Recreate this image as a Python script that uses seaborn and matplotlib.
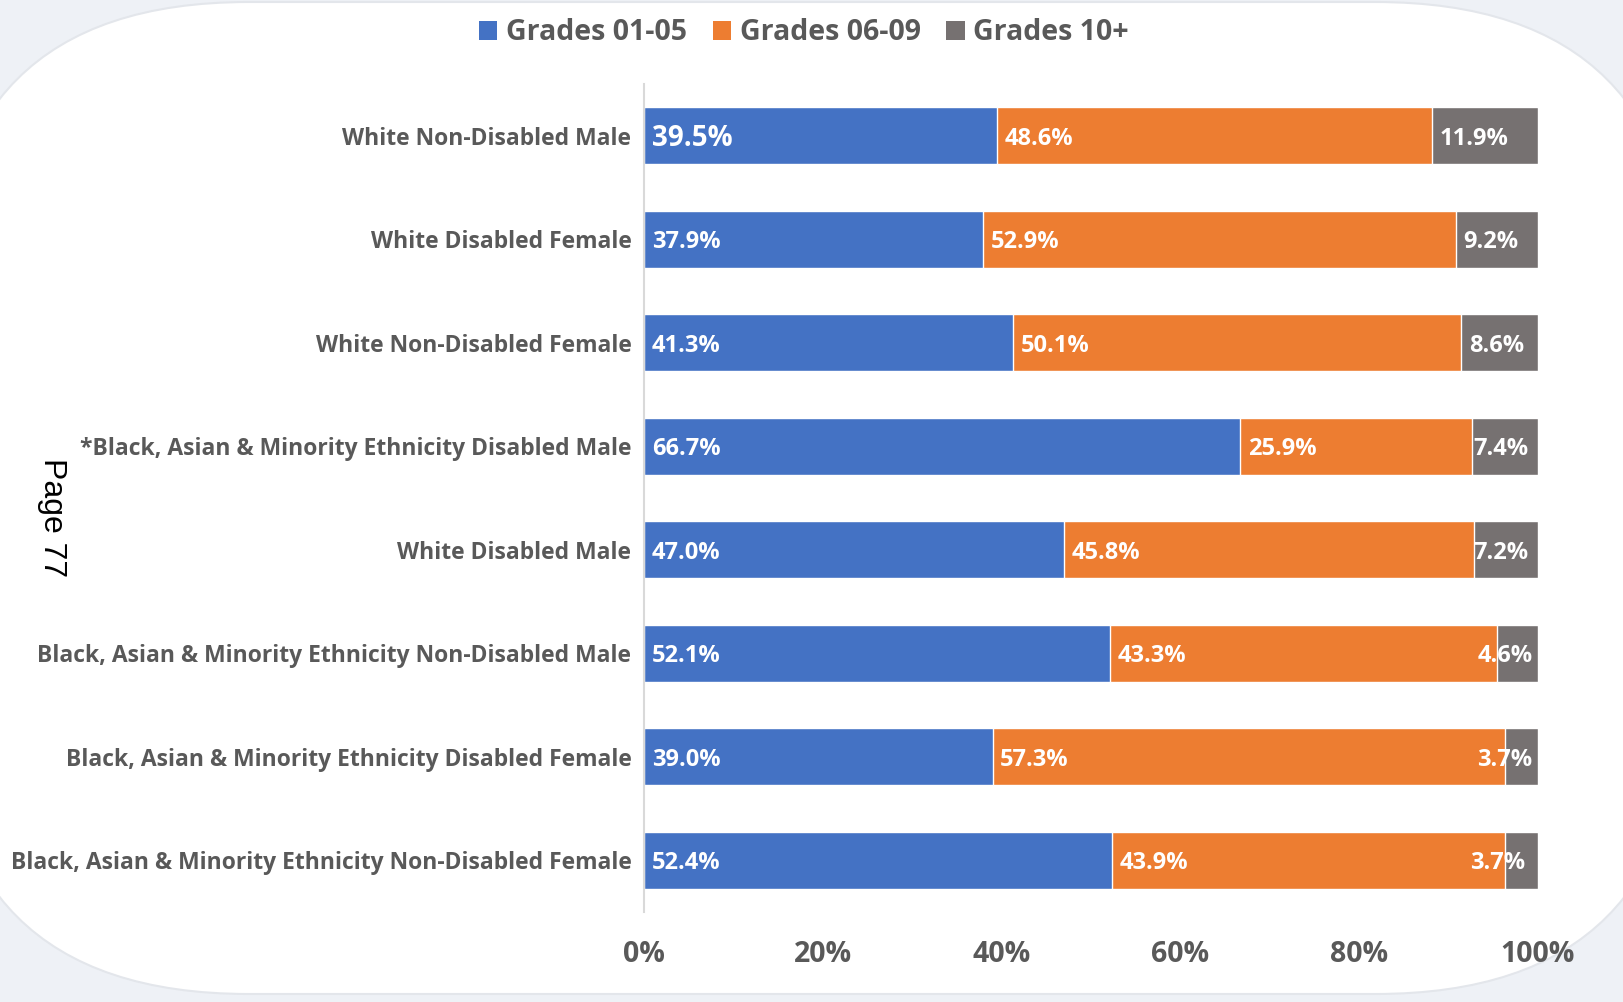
import matplotlib
matplotlib.use("Agg")
import matplotlib.pyplot as plt
import seaborn as sns
import pandas as pd
import numpy as np
from matplotlib.patches import FancyBboxPatch, Patch

categories = [
    "White Non-Disabled Male",
    "White Disabled Female",
    "White Non-Disabled Female",
    "*Black, Asian & Minority Ethnicity Disabled Male",
    "White Disabled Male",
    "Black, Asian & Minority Ethnicity Non-Disabled Male",
    "Black, Asian & Minority Ethnicity Disabled Female",
    "Black, Asian & Minority Ethnicity Non-Disabled Female",
]
series_names = ["Grades 01-05", "Grades 06-09", "Grades 10+"]
grades_01_05 = [39.5, 37.9, 41.3, 66.7, 47.0, 52.1, 39.0, 52.4]
grades_06_09 = [48.6, 52.9, 50.1, 25.9, 45.8, 43.3, 57.3, 43.9]
grades_10p = [11.9, 9.2, 8.6, 7.4, 7.2, 4.6, 3.7, 3.7]
x_ticks = [0, 20, 40, 60, 80, 100]
x_tick_labels = ["0%", "20%", "40%", "60%", "80%", "100%"]

colors = ["#4472C4", "#ED7D31", "#767171"]
text_grey = "#595959"
bg = "#EEF1F6"

sns.set_theme(style="white")
plt.rcParams["font.family"] = ["Open Sans", "DejaVu Sans"]

W, H = 1624, 1002
fig = plt.figure(figsize=(W / 100, H / 100), dpi=100)
fig.patch.set_facecolor(bg)

# white rounded panel
panel = FancyBboxPatch((-60 / W, 8 / H), (W + 120) / W, (H - 10) / H,
                       boxstyle="round,pad=0,rounding_size=0.19",
                       transform=fig.transFigure, facecolor="white",
                       edgecolor="#E3E6EB", linewidth=1.5, zorder=-10,
                       mutation_aspect=W / H)
fig.patches.append(panel)

ax = fig.add_axes([644 / W, 1 - 912 / H, (1538 - 644) / W, (912 - 84) / H])
ax.set_facecolor("none")
ax.set_zorder(5)

df = pd.DataFrame({
    "category": categories,
    "s1": grades_01_05,
    "s2": grades_06_09,
    "s3": grades_10p,
})
df["c1"] = df["s1"]
df["c2"] = df["s1"] + df["s2"]
df["c3"] = df["s1"] + df["s2"] + df["s3"]

for col, c in zip(["c3", "c2", "c1"], colors[::-1]):
    sns.barplot(data=df, x=col, y="category", order=categories, color=c,
                width=0.55, saturation=1, ax=ax, orient="h")

ax.set_xlim(0, 100)
ax.set_ylim(len(categories) - 0.5, -0.5)
ax.set_xlabel("")
ax.set_ylabel("")
ax.set_xticks(x_ticks)
ax.set_xticklabels(x_tick_labels, fontsize=20.5, fontweight="bold", color=text_grey)
ax.tick_params(axis="x", length=0, pad=20)
ax.tick_params(axis="y", length=0, pad=9)
for lab in ax.get_yticklabels():
    lab.set_fontsize(16.5)
    lab.set_fontweight("bold")
    lab.set_color(text_grey)
for s in ["top", "right", "bottom"]:
    ax.spines[s].set_visible(False)
ax.spines["left"].set_color("#D9D9D9")
ax.spines["left"].set_linewidth(1.5)

# data labels
for i in range(len(categories)):
    starts = [0, df["c1"][i], df["c2"][i]]
    vals = [df["s1"][i], df["s2"][i], df["s3"][i]]
    for j in range(3):
        fs = 20 if (i == 0 and j == 0) else 17
        txt = f"{vals[j]:.1f}%"
        if j == 2 and vals[j] < 8:
            off = -7 if vals[j] > 7 else (-4 - (i == 7) * 5)
            ax.annotate(txt, (100, i), xytext=(off, -2),
                        textcoords="offset points", ha="right", va="center",
                        color="white", fontsize=fs, fontweight="bold")
        else:
            ax.annotate(txt, (starts[j], i), xytext=(5.5, -2),
                        textcoords="offset points", ha="left", va="center",
                        color="white", fontsize=fs, fontweight="bold")

# legend
handles = [Patch(facecolor=c, edgecolor="none") for c in colors]
fig.legend(handles, series_names, loc="center", bbox_to_anchor=(0.495, 1 - 33 / H),
           ncol=3, frameon=False, prop={"family": "Open Sans", "weight": "bold", "size": 20.5},
           labelcolor=text_grey, handlelength=0.65, handleheight=0.65,
           handletextpad=0.3, columnspacing=0.9)

fig.text(52 / W, 1 - 518 / H, "Page 77", rotation=-90, ha="center", va="center",
         fontsize=23, family="Liberation Sans", color="black")

fig.savefig("out.png", dpi=100, facecolor=fig.get_facecolor())
